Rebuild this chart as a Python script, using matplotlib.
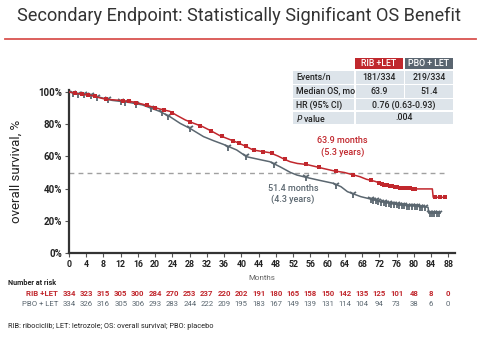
import matplotlib
matplotlib.use("Agg")
import matplotlib.pyplot as plt
from matplotlib.patches import Rectangle
from matplotlib.lines import Line2D
import numpy as np

plt.rcParams['font.family'] = ['Roboto', 'DejaVu Sans']

RED = '#c1272d'
GREY = '#5b6770'

# ---- data ----
rib_t = [0, 2, 5, 7, 8.5, 11, 14.5, 17, 19, 21, 23.4, 25, 27, 29, 31, 33, 35, 37, 38.9, 41, 42.7,
         44.5, 46.6, 48.5, 50, 51.3, 53, 55.1, 57, 59, 61.3, 63.9, 66, 67.5, 69, 71, 73, 75.2,
         77, 80.6, 84.3, 84.5, 87.2]
rib_s = [100, 99, 98, 96.5, 95.5, 95, 94, 92.5, 91, 89.5, 88, 85.5, 82.6, 80.5, 78.5,
         75.8, 72.9, 70.8, 68.8, 66.3, 64, 63.2, 62.3, 60.2, 58.2, 56.7, 55.6, 55, 53.8, 52.5,
         51.1, 50, 48.5, 47.4, 45.8, 44.5, 42.6, 41.2, 40.6, 39.8, 39.8, 34.6, 34.6]
pbo_t = [0, 2, 5, 7, 8.5, 10, 14, 17, 19, 21, 23.4, 25.8, 28, 31.2, 33.5, 35.8, 38.9, 41.2, 44.3,
         46.6, 49, 51.4, 52.9, 55, 58, 61.3, 63.1, 64.6, 67.7, 70, 72.2, 76.8, 80, 83.3, 83.5,
         86.1]
pbo_s = [100, 99, 98, 96.8, 95.8, 94.8, 93.5, 92, 90, 88, 84.7, 80.5, 77.5, 72.3, 69.8, 67.5,
         64, 59.8, 58, 56.7, 53.5, 50, 48.4, 47, 45.2, 43.3, 41.2, 38.1, 35, 33.5, 31.9, 29.8,
         29.2, 28.4, 24.7, 24.7]
rib_cens = [1.5, 3, 4.5, 6, 8.5, 12.5, 14, 15.5, 18, 20, 22, 24, 28, 30.5, 33, 35.5, 38, 39.5, 41,
            43, 45, 47, 50, 55, 58, 62, 66, 70, 72, 72.6, 73.2, 73.8, 74.4, 75, 75.6, 76.2, 76.8,
            77.4, 78, 78.6, 79.2, 79.8, 80.3, 85, 86, 87.2]
pbo_cens = [1, 2, 3.5, 5, 6.5, 9, 12, 13, 15.5, 19, 21.5, 23, 28, 37, 41, 47.5, 55, 62, 66, 70,
            70.6, 71.2, 71.8, 72.4, 73, 73.6, 74.2, 74.8, 75.4, 76, 76.6, 77.2, 77.8, 78.4, 79,
            79.6, 80.2, 80.8, 81.4, 82, 82.6, 83.8, 84.3, 84.8, 85.3, 85.8]
months = list(range(0, 89, 4))
rib_risk = [334, 323, 315, 305, 300, 284, 270, 253, 237, 220, 202, 191, 180, 165, 158, 150, 142,
            135, 125, 101, 48, 8, 0]
pbo_risk = [334, 326, 316, 305, 306, 293, 283, 244, 222, 209, 195, 183, 167, 149, 139, 131, 114,
            104, 94, 73, 38, 6, 0]
arm_labels = ['RIB +LET', 'PBO + LET']
table_rows = ['Events/n', 'Median OS, mo', 'HR (95% CI)', 'P value']
rib_vals = ['181/334', '63.9']
pbo_vals = ['219/334', '51.4']
hr_val = '0.76 (0.63-0.93)'
p_val = '.004'

W, H = 480, 340
fig = plt.figure(figsize=(W / 100, H / 100), dpi=100)
fig.patch.set_facecolor('white')

def fx(px):
    return px / W

def fy(py):
    return 1 - py / H

x0px, ppm = 69, 4.31
xmax = 89.5
ax = fig.add_axes([fx(x0px), fy(253), xmax * ppm / W, (253 - 90) / H])
ax.set_xlim(0, xmax)
ax.set_ylim(0, 100 * (253 - 90) / 161)

def curve_val(t, ts, ss):
    return np.interp(t, ts, ss)

ax.axhline(50, color='#a0a0a0', lw=1.0, ls=(0, (3.5, 3)), xmax=88 / xmax, zorder=1)
ax.plot(pbo_t, pbo_s, color=GREY, lw=1.1, zorder=3)
ax.plot(rib_t, rib_s, color=RED, lw=1.1, zorder=4)
ax.plot(pbo_cens, curve_val(pbo_cens, pbo_t, pbo_s), ls='none', marker='1', ms=5.5,
        mew=1.3, color=GREY, zorder=3)
ax.plot(rib_cens, curve_val(rib_cens, rib_t, rib_s), ls='none', marker='s', ms=2.8,
        mew=0, color=RED, zorder=4)

for s in ['top', 'right']:
    ax.spines[s].set_visible(False)
for s in ['left', 'bottom']:
    ax.spines[s].set_color('#333333')
    ax.spines[s].set_linewidth(1.6)
ax.set_xticks(months)
ax.set_xticklabels([str(m) for m in months], fontsize=6.3, color='#222222', fontweight='bold')
ax.set_yticks([0, 20, 40, 60, 80, 100])
ax.set_yticklabels(['0%', '20%', '40%', '60%', '80%', '100%'], fontsize=7,
                   color='#222222', fontweight='bold')
ax.tick_params(axis='both', length=3, width=0.8, color='#555555', pad=2)
ax.set_ylabel('overall survival, %', fontsize=9.5, color='#222222')
ax.yaxis.set_label_coords(fx(23 - x0px) / (xmax * ppm / W), 0.5)
ax.set_xlabel('Months', fontsize=5.8, color='#666666', labelpad=4)

ax.text(63.5, 66.1, '63.9 months\n(5.3 years)', color=RED, fontsize=6.5, fontweight='medium',
        ha='center', va='center', linespacing=1.3)
ax.text(52.0, 36.6, '51.4 months\n(4.3 years)', color=GREY, fontsize=6.5, fontweight='medium',
        ha='center', va='center', linespacing=1.3)

# title
fig.text(fx(17), fy(16), 'Secondary Endpoint: Statistically Significant OS Benefit',
         fontsize=13.1, color='#333333', ha='left', va='center')
fig.add_artist(Line2D([fx(5), fx(476)], [fy(38.5), fy(38.5)], color='#d9534f', lw=1.3))

# table
def rect(x1, y1, x2, y2, color):
    fig.add_artist(Rectangle((fx(x1), fy(y2)), fx(x2) - fx(x1), (y2 - y1) / H,
                             facecolor=color, edgecolor='none'))

rect(355, 58, 403, 69, '#c0282d')
rect(405, 58, 453, 69, '#5a6570')
fig.text(fx(379), fy(63.5), arm_labels[0], color='white', fontsize=6.3, fontweight='medium',
         ha='center', va='center')
fig.text(fx(429), fy(63.5), arm_labels[1], color='white', fontsize=6.3, fontweight='medium',
         ha='center', va='center')
row_y = [(71, 83.5), (85, 97.5), (99, 110.5), (112, 124)]
cell = '#dde4ea'
tkw = dict(fontsize=6.3, color='#222222', va='center', fontweight='medium')
for i, (lab, (y1, y2)) in enumerate(zip(table_rows, row_y)):
    rect(293, y1, 354, y2, cell)
    ym = (y1 + y2) / 2
    if i < 2:
        rect(355.5, y1, 403.5, y2, cell)
        rect(405, y1, 453, y2, cell)
        fig.text(fx(379), fy(ym), rib_vals[i], ha='center', **tkw)
        fig.text(fx(429), fy(ym), pbo_vals[i], ha='center', **tkw)
    else:
        rect(355.5, y1, 453, y2, cell)
        fig.text(fx(404), fy(ym), hr_val if i == 2 else p_val, ha='center', **tkw)
    if lab == 'P value':
        fig.text(fx(296), fy(ym), r'$\it{P}$ value', ha='left', **tkw)
    else:
        fig.text(fx(296), fy(ym), lab, ha='left', **tkw)

# number at risk
fig.text(fx(8), fy(283), 'Number at risk', fontsize=5.2, color='#222222', fontweight='bold',
         ha='left', va='center')
trans = ax.get_xaxis_transform()
for lab, vals, col, py, fw in [(arm_labels[0], rib_risk, RED, 293.5, 'bold'),
                               (arm_labels[1], pbo_risk, GREY, 303.5, 'normal')]:
    fig.text(fx(58), fy(py), lab, fontsize=5.6, color=col, ha='right', va='center',
             fontweight=fw)
    yax = (fy(py) - fy(253)) / ((253 - 90) / H)
    for m, v in zip(months, vals):
        ax.text(m, yax, str(v), transform=trans, fontsize=5.6, color=col, ha='center',
                va='center', fontweight=fw, clip_on=False)

fig.text(fx(8), fy(326), 'RIB: ribociclib; LET: letrozole; OS: overall survival; PBO: placebo',
         fontsize=5.3, color='#222222', ha='left', va='center')

fig.savefig('out.png', dpi=100, facecolor='white')
